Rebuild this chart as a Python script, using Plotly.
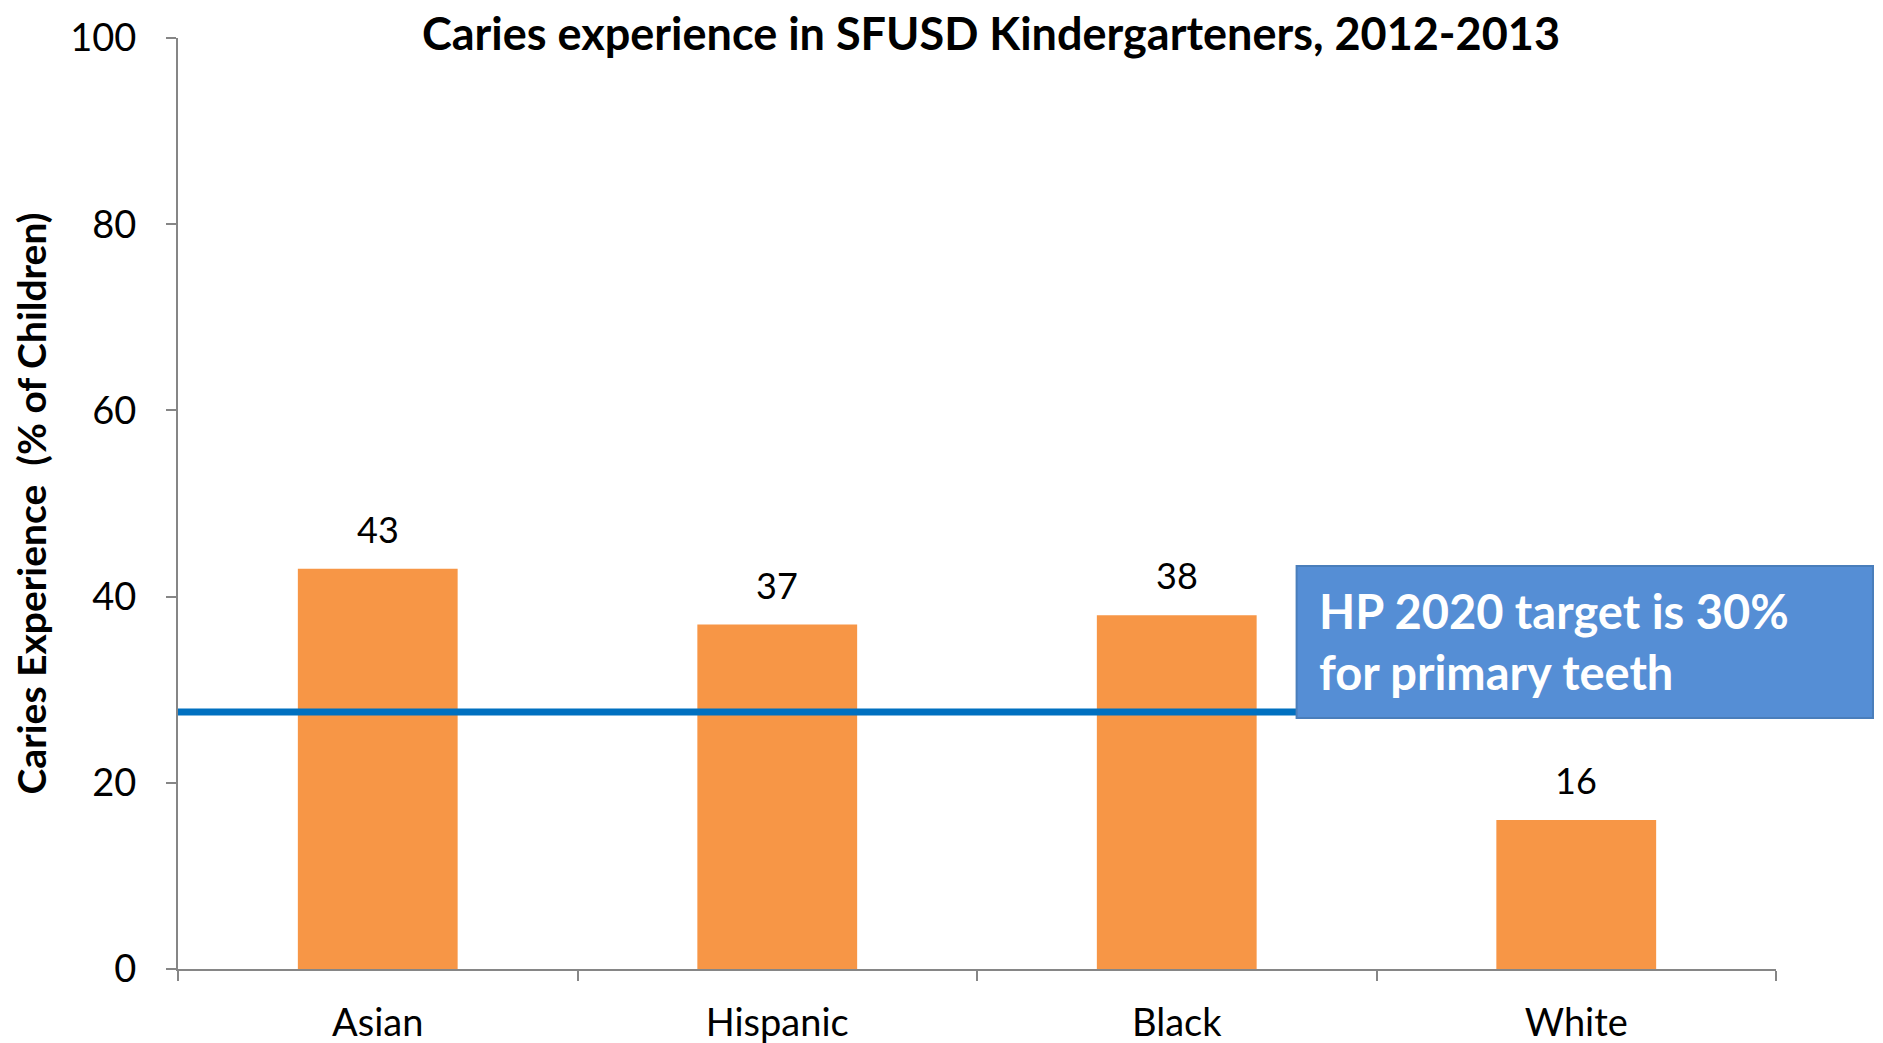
import plotly.graph_objects as go

categories = ["Asian", "Hispanic", "Black", "White"]
values = [43, 37, 38, 16]
target_line = 27.6
y_ticks = [0, 20, 40, 60, 80, 100]

FONT = "Lato"

fig = go.Figure()
fig.add_trace(go.Bar(
    x=categories, y=values,
    marker=dict(color="#F79646", line=dict(width=0)),
    width=0.4,
    cliponaxis=False,
))

for c, v in zip(categories, values):
    fig.add_annotation(x=c, y=v, text=str(v), showarrow=False,
                       yanchor="bottom", yshift=16,
                       font=dict(family=FONT, size=36, color="black"))

fig.add_shape(type="line", xref="paper", yref="y", x0=0, x1=0.70,
              y0=target_line, y1=target_line,
              line=dict(color="#0070C0", width=7), layer="above")

fig.add_shape(type="rect", xref="paper", yref="y", x0=0.700, x1=1.0607,
              y0=26.96, y1=43.3, fillcolor="#558ED5",
              line=dict(color="#4A7EBB", width=2), layer="above")

fig.add_annotation(
    xref="paper", yref="y", x=0.7128, y=35.2, xanchor="left", yanchor="middle",
    text="HP 2020 target is 30%<br>for primary teeth",
    showarrow=False, align="left",
    font=dict(family=FONT, size=47, color="white", weight="bold"),
)

fig.update_layout(
    width=1883, height=1043,
    paper_bgcolor="white", plot_bgcolor="white",
    margin=dict(l=170, r=115, t=30, b=82, autoexpand=False),
    showlegend=False,
    title=dict(text="<b>Caries experience in SFUSD Kindergarteners, 2012-2013</b>",
               x=(991 - 8) / 1883, xanchor="center", y=1 - 26 / 1043, yanchor="middle",
               font=dict(family=FONT, size=45, color="black")),
    font=dict(family=FONT, color="black"),
)

fig.update_xaxes(
    type="category", tickson="boundaries", ticks="outside", ticklen=10,
    tickcolor="#868686", tickwidth=2,
    showline=True, linecolor="#868686", linewidth=2,
    showgrid=False, tickfont=dict(family=FONT, size=38, color="black"),
    ticklabelstandoff=19, automargin=False,
)
fig.update_yaxes(
    range=[0, 100], tickvals=y_ticks, ticks="outside", ticklen=10,
    tickcolor="#868686", tickwidth=2,
    showline=True, linecolor="#868686", linewidth=2,
    showgrid=False, zeroline=False,
    tickfont=dict(family=FONT, size=38, color="black"),
    ticklabelstandoff=22, automargin=False,
    title=dict(text="<b>Caries Experience  (% of Children)</b>", standoff=18,
               font=dict(family=FONT, size=39, color="black")),
)

fig.write_html("out.html")
